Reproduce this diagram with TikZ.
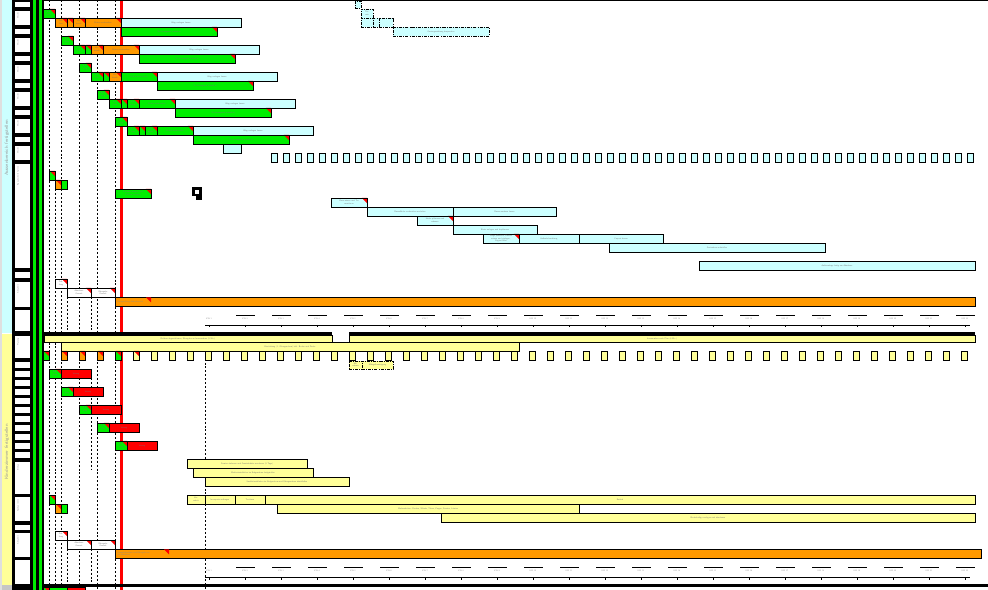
\documentclass[tikz,border=0pt]{standalone}
\usetikzlibrary{positioning}
\definecolor{cianClaro}{HTML}{CCFFFF}
\definecolor{verdeVivo}{HTML}{00EE00}
\definecolor{naranjaObra}{HTML}{FF9900}
\definecolor{rojoVivo}{HTML}{FF0000}
\definecolor{amarilloClaro}{HTML}{FFFF99}
\colorlet{colCian}{cianClaro}
\colorlet{colVerde}{verdeVivo}
\colorlet{colNaranja}{naranjaObra}
\colorlet{colRojo}{rojoVivo}
\colorlet{colAmarillo}{amarilloClaro}
\colorlet{colTexto}{black!55}
\tikzset{
  barra/.style={
    draw=black, line width=0.6pt, anchor=north west,
    inner sep=0pt, outer sep=0pt, align=center,
    font=\sffamily\fontsize{1.5}{1.8}\selectfont, text=colTexto
  },
  esquina/.style={path picture={
    \fill[colRojo] (path picture bounding box.north east)
      -- ++(-0.13cm,0) -- ++(0.13cm,-0.13cm) -- cycle;}},
  punteada/.style={dash pattern=on 2.2pt off 0.8pt on 0.6pt off 0.8pt},
  guia/.style={line width=0.5pt, dash pattern=on 1.4pt off 1.4pt},
  lineaRoja/.style={colRojo, line width=1.9pt},
  lineaEje/.style={line width=0.5pt},
  etiquetaFecha/.style={font=\sffamily\fontsize{1.5}{1.8}\selectfont, text=black!45, inner sep=0pt},
  etiquetaFila/.style={rotate=90, anchor=east, font=\sffamily\fontsize{1.5}{1.8}\selectfont,
    text=black!45, inner sep=0pt},
  etiquetaGrupo/.style={rotate=90, font=\sffamily\fontsize{3.4}{4}\selectfont,
    text=black!40, inner sep=0pt},
}
% \tarea[estilo]{x1}{y1}{x2}{y2}{nombre}{texto}
\newcommand{\tarea}[7][]{%
  \node[barra, #1, minimum width={((#4)-(#2))*0.025cm},
    minimum height={((#5)-(#3))*0.025cm}] (#6) at (#2,#3) {#7};}

\begin{document}
\begin{tikzpicture}[x=0.025cm, y=-0.025cm]
  \useasboundingbox (0,0) rectangle (988,590);

  % bandas de grupo y columna izquierda
  \fill[gray!25] (0,0) rectangle (2,590);
  \fill[colCian] (2,0) rectangle (12,333);
  \fill[colAmarillo] (2,334) rectangle (12,585);
  \fill[gray!45] (2,585) rectangle (12,590);
  \fill[black] (12,0) rectangle (44,590);
  \fill[colVerde] (33,0) rectangle (36,590);
  \fill[colVerde] (39,0) rectangle (42,590);
  \foreach \k in {0,...,5}{
    \fill[white] (15,2+27*\k) rectangle (30,7+27*\k);
    \fill[white] (15,11+27*\k) rectangle (30,25+27*\k);
    \node[etiquetaFila] (fila\k) at (18,12+27*\k) {Woche};
  }
  \foreach \j in {0,...,10}
    \fill[white] (15,362+9*\j) rectangle (30,368+9*\j);
  \foreach \a/\b in {164/268, 272/278, 282/307, 310/331, 336/358,
                     462/494, 497/521, 525/530, 533/557, 560/584}
    \fill[white] (15,\a) rectangle (30,\b);
  \node[etiquetaFila] (filaA) at (18,166) {Bauabschnitt Garten};
  \node[etiquetaFila] (filaB) at (18,284) {Abnahme};
  \node[etiquetaFila] (filaC) at (18,338) {Planung};
  \node[etiquetaFila] (filaD) at (18,464) {Einbau};
  \node[etiquetaFila] (filaE) at (18,499) {Ausbau innen};
  \node[etiquetaFila] (filaF) at (18,535) {Abnahme};
  \node[etiquetaGrupo] (grupoSup) at (7,148) {Aussenbereich fertigstellen};
  \node[etiquetaGrupo] (grupoInf) at (7,452) {Kinderzimmer fertigstellen};

  % guias y linea de hoy
  \foreach \x in {49,61,79,97,115}
    \draw[guia] (\x,0) -- (\x,590);
  \draw[guia] (55,189) -- (55,590);
  \draw[guia] (67,297) -- (67,332) (67,549) -- (67,584);
  \draw[guia] (91,297) -- (91,332) (91,378) -- (91,470) (91,549) -- (91,584);
  \draw[guia] (205,335) -- (205,590);
  \draw[lineaRoja] (121.3,0) -- (121.3,590);

  % bordes de seccion
  \fill (44,0) rectangle (988,1.3);
  \fill (44,332) rectangle (332,335);
  \fill (349,332) rectangle (975,335);
  \fill (44,584) rectangle (988,587);

  % ejes de tiempo
  \foreach \y/\s in {0/A, 252/B}{
    \draw[lineaEje] (205,325+\y) -- (970,325+\y);
    \foreach \k in {0,...,21}{
      \pgfmathtruncatemacro{\semana}{\k+1}
      \draw[lineaEje] (209+36*\k,325+\y) -- (209+36*\k,327.5+\y);
      \node[etiquetaFecha] (fecha\s\k) at (209+36*\k,319+\y) {KW \semana};
    }
    \foreach \k in {1,...,21}
      \draw[lineaEje] (200+36*\k,315+\y) -- (219+36*\k,315+\y);
  }

  % seccion superior: grupos escalonados
  \foreach \k/\ca/\cb/\cc/\cd in {0/colNaranja/colNaranja/colNaranja/colNaranja,
      1/colVerde/colVerde/colNaranja/colNaranja, 2/colVerde/colVerde/colNaranja/colVerde,
      3/colVerde/colVerde/colVerde/colVerde, 4/colVerde/colVerde/colVerde/colVerde}{
    \pgfmathsetmacro{\dx}{18*\k}
    \pgfmathsetmacro{\dy}{27*\k}
    \tarea[fill=colVerde, esquina]{43+\dx}{9+\dy}{55+\dx}{18+\dy}{ini\k}{Auf-\\trag}
    \tarea[fill=\ca, esquina]{55+\dx}{18+\dy}{67+\dx}{27+\dy}{pa\k}{Lie-\\fern}
    \tarea[fill=\cb, esquina]{67+\dx}{18+\dy}{73+\dx}{27+\dy}{pb\k}{}
    \tarea[fill=\cc, esquina]{73+\dx}{18+\dy}{85+\dx}{27+\dy}{pc\k}{Vor-\\bereit.}
    \tarea[fill=\cd, esquina]{85+\dx}{18+\dy}{121+\dx}{27+\dy}{pd\k}{Boden vorbereiten}
    \tarea[fill=colCian]{121+\dx}{18+\dy}{241+\dx}{27+\dy}{pe\k}{Wege anlegen lassen}
    \tarea[fill=colVerde, esquina]{121+\dx}{27+\dy}{217+\dx}{36+\dy}{pf\k}{Trocknungszeit einhalten}
  }
  \tarea[fill=colCian]{223}{144}{241}{153}{se}{}

  % tareas planificadas arriba
  \tarea[fill=colCian, punteada]{355}{1}{361}{8}{ta}{}
  \tarea[fill=colCian, punteada]{361}{9}{373}{18}{tb}{Ter-\\min}
  \tarea[fill=colCian, punteada]{361}{18}{373}{27}{tc}{}
  \tarea[fill=colCian, punteada]{373}{18}{379}{27}{td}{}
  \tarea[fill=colCian, punteada]{379}{18}{393}{27}{te}{}
  \tarea[fill=colCian, punteada]{393}{27}{489}{36}{tf}{Gartengestaltung besprechen}

  \foreach \j in {0,...,58}
    \tarea[fill=colCian]{271+12*\j}{153}{277+12*\j}{162}{cq\j}{};

  \tarea[fill=colVerde, esquina]{49}{171}{55}{180}{sa}{}
  \tarea[fill=colNaranja, esquina]{55}{180}{61}{189}{sb}{}
  \tarea[fill=colVerde]{61}{180}{67}{189}{sc}{}
  \tarea[fill=colVerde, esquina]{115}{189}{151}{198}{sd}{Terrasse anlegen und\\Platten verlegen}
  \fill[black] (192,187) rectangle (202,200);
  \fill[white] (195,190) rectangle (199,194);
  \fill[white] (192,196) rectangle (196,200);

  \tarea[fill=colCian, esquina]{331}{198}{367}{207}{ca}{Zaun setzen und Tor\\montieren}
  \tarea[fill=colCian]{367}{207}{453}{216}{cb}{Rasenfläche vorbereiten und säen}
  \tarea[fill=colCian]{453}{207}{556}{216}{cc}{Rasen wachsen lassen}
  \tarea[fill=colCian, esquina]{417}{216}{453}{225}{cd}{Hecke pflanzen und\\wässern}
  \tarea[fill=colCian]{453}{225}{537}{234}{ce}{Beete anlegen und bepflanzen}
  \tarea[fill=colCian, esquina]{483}{234}{519}{243}{cf}{Wege pflastern, Kanten\\setzen und einfegen,\\Fugen füllen}
  \tarea[fill=colCian]{519}{234}{579}{243}{cg}{Außenbeleuchtung}
  \tarea[fill=colCian]{579}{234}{663}{243}{ch}{Carport bauen}
  \tarea[fill=colCian]{609}{243}{825}{252}{ci}{Gartenhaus aufstellen}
  \tarea[fill=colCian]{699}{261}{975}{270}{cj}{Außenanlage fertig zur Abnahme}

  \tarea[fill=white, esquina]{55}{279}{67}{288}{wa}{Prü-\\fung}
  \tarea[fill=white, esquina]{67}{288}{91}{297}{wb}{Abnahme\\Gewerk}
  \tarea[fill=white, esquina]{91}{288}{115}{297}{wc}{Übergabe\\Gewerk}
  \tarea[fill=colNaranja]{115}{297}{975}{306}{oa}{}
  \node[etiquetaFecha, anchor=west] (oaTexto) at (117,301.5) {Fertigstellung Außenbereich};
  \fill[colRojo] (151,297.4) -- (146,297.4) -- (151,302.4) -- cycle;

  % seccion inferior
  \tarea[fill=colAmarillo]{44}{335}{332}{342}{ya}{Rohbau abgeschlossen, Übergabe an Innenausbau (2 Wo.)}
  \tarea[fill=colAmarillo]{349}{335}{975}{342}{yb}{Innenausbau nach Plan (4 Wo.)}
  \tarea[fill=colAmarillo]{61}{342}{519}{351}{yc}{Einrichtung (1. Obergeschoss) inkl. Boden und Decke}
  \tarea[fill=colVerde, esquina]{43}{351}{49}{360}{ma}{}
  \tarea[fill=colNaranja, esquina]{61}{351}{67}{360}{mb}{}
  \tarea[fill=colNaranja, esquina]{79}{351}{85}{360}{mc}{}
  \tarea[fill=colNaranja, esquina]{97}{351}{103}{360}{md}{}
  \tarea[fill=colVerde, esquina]{115}{351}{121}{360}{me}{}
  \tarea[fill=colAmarillo, esquina]{133}{351}{139}{360}{mf}{}
  \foreach \j in {1,...,46}
    \tarea[fill=colAmarillo]{133+18*\j}{351}{139+18*\j}{360}{mg\j}{};
  \tarea[fill=colAmarillo, punteada]{349}{361}{362}{369}{yd}{Ab-\\nahme}
  \tarea[fill=colAmarillo, punteada]{362}{361}{393}{369}{ye}{Mängelbeseitigung}

  \foreach \j/\xa in {0/49, 1/61, 2/79, 3/97, 4/115}{
    \pgfmathsetmacro{\desp}{18*\j}
    \tarea[fill=colVerde, esquina]{\xa}{369+\desp}{\xa+12}{378+\desp}{rv\j}{Prü-\\fung}
    \tarea[fill=colRojo]{\xa+12}{369+\desp}{\xa+42}{378+\desp}{rr\j}{Verzug}
  }

  \tarea[fill=colAmarillo]{187}{459}{307}{468}{yf}{Fenster einbauen und Fensterbänke montieren (2 Tage)}
  \tarea[fill=colAmarillo]{193}{468}{313}{477}{yg}{Elektroinstallation im Erdgeschoss fertigstellen}
  \tarea[fill=colAmarillo]{205}{477}{349}{486}{yh}{Sanitärinstallation im Erdgeschoss und Obergeschoss abschließen}
  \tarea[fill=colAmarillo]{187}{495}{205}{504}{yi}{Vor-\\arbeit}
  \tarea[fill=colAmarillo]{205}{495}{235}{504}{yj}{Innenputz auftragen}
  \tarea[fill=colAmarillo]{235}{495}{265}{504}{yk}{Trocknen}
  \tarea[fill=colAmarillo]{265}{495}{975}{504}{yl}{Estrich}
  \tarea[fill=colAmarillo]{277}{504}{579}{513}{ym}{Malerarbeiten: Decken, Wände, Türen, Zargen, Fenster, Leisten}
  \tarea[fill=colAmarillo]{441}{513}{975}{522}{yn}{Bodenbeläge verlegen und abnehmen}

  \tarea[fill=colVerde, esquina]{49}{495}{55}{504}{na}{}
  \tarea[fill=colNaranja, esquina]{55}{504}{61}{513}{nb}{}
  \tarea[fill=colVerde]{61}{504}{67}{513}{nc}{}
  \tarea[fill=white, esquina]{55}{531}{67}{540}{wd}{Prü-\\fung}
  \tarea[fill=white, esquina]{67}{540}{91}{549}{we}{Abnahme\\Gewerk}
  \tarea[fill=white, esquina]{91}{540}{115}{549}{wf}{Übergabe\\Gewerk}
  \tarea[fill=colNaranja]{115}{549}{981}{558}{ob}{}
  \node[etiquetaFecha, anchor=west, align=left] (obTexto) at (117,553.5)
    {Gesamtabnahme und Übergabe an\\den Bauherrn};
  \fill[colRojo] (169,549.4) -- (164,549.4) -- (169,554.4) -- cycle;

  \tarea[fill=colVerde, esquina]{43}{587}{49}{596}{za}{}
  \tarea[fill=colVerde]{49}{587}{67}{596}{zb}{}
  \tarea[fill=colRojo]{67}{587}{85}{596}{zc}{}
\end{tikzpicture}
\end{document}
